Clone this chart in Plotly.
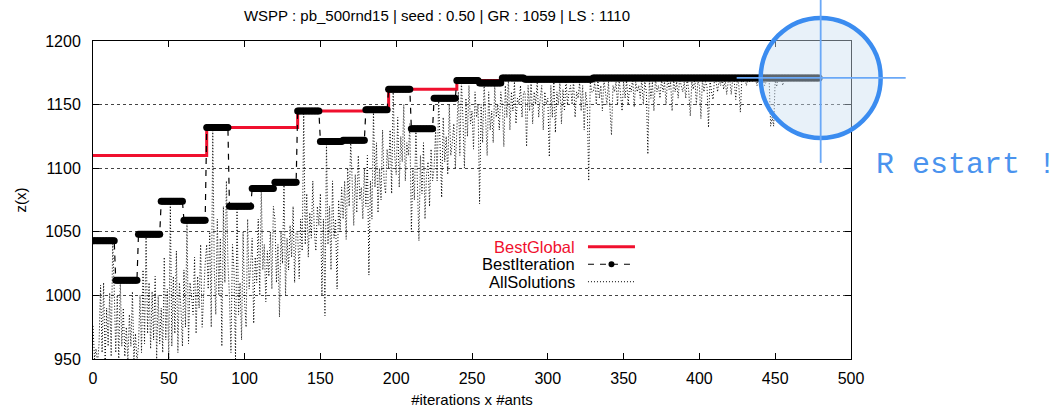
import plotly.graph_objects as go

# ---------------- data ----------------
INSTANCE = "pb_500rnd15"
SEED = "0.50"
GR = 1059
LS = 1110
ANTS = 15

x_ticks = [0, 50, 100, 150, 200, 250, 300, 350, 400, 450, 500]
y_ticks = [950, 1000, 1050, 1100, 1150, 1200]

best_iteration = [1043, 1012, 1048, 1074, 1059, 1132, 1070, 1084, 1089, 1145,
                  1121, 1122, 1146, 1162, 1131, 1155, 1169, 1167, 1171, 1170,
                  1170, 1170, 1171, 1171, 1171, 1171, 1171, 1171, 1171, 1171,
                  1171, 1171]

all_solutions = [
    [976, 950, 958, 947, 962, 1008, 955, 1010, 948, 990, 960, 1002, 952, 1043, 1005],
    [955, 1000, 948, 1012, 960, 990, 952, 975, 948, 985, 960, 1003, 950, 970, 948],
    [960, 1000, 955, 1020, 962, 1048, 970, 1010, 958, 1003, 965, 1015, 950, 1000, 962],
    [990, 955, 1030, 965, 1005, 950, 1074, 960, 1015, 970, 1035, 955, 1010, 990, 960],
    [1020, 975, 1059, 962, 1010, 1000, 985, 1030, 970, 1015, 990, 1040, 975, 1005, 1025],
    [1040, 1005, 1050, 975, 1132, 1020, 985, 1060, 1000, 1045, 960, 1070, 1010, 1090, 1025],
    [1000, 955, 1040, 1020, 950, 1070, 985, 1010, 965, 1050, 995, 975, 1060, 1005, 1030],
    [1045, 978, 1030, 1010, 1060, 1000, 1084, 1020, 1040, 995, 1035, 1015, 1050, 1005, 1070],
    [1060, 1010, 1040, 983, 1050, 1025, 1089, 1000, 1045, 1020, 1055, 1030, 1070, 1010, 1050],
    [1050, 1013, 1060, 1035, 1145, 1040, 1080, 1030, 1065, 1045, 1090, 1050, 1035, 1070, 1055],
    [1080, 1000, 1060, 984, 1121, 1040, 1070, 1020, 1090, 1045, 1060, 1005, 1075, 1050, 1085],
    [1060, 1090, 1044, 1100, 1070, 1122, 1080, 1055, 1095, 1065, 1110, 1075, 1085, 1060, 1100],
    [1070, 1110, 1016, 1090, 1060, 1146, 1085, 1120, 1065, 1100, 1075, 1130, 1090, 1080, 1115],
    [1100, 1130, 1080, 1162, 1110, 1095, 1140, 1085, 1125, 1105, 1150, 1090, 1120, 1110, 1135],
    [1050, 1100, 1075, 1131, 1090, 1043, 1110, 1080, 1120, 1060, 1095, 1105, 1070, 1115, 1090],
    [1100, 1130, 1090, 1155, 1115, 1077, 1140, 1105, 1125, 1095, 1150, 1110, 1120, 1135, 1100],
    [1130, 1160, 1110, 1169, 1140, 1100, 1155, 1125, 1165, 1135, 1145, 1115, 1160, 1140, 1150],
    [1072, 1150, 1120, 1167, 1135, 1110, 1160, 1130, 1145, 1120, 1165, 1140, 1150, 1130, 1160],
    [1150, 1117, 1165, 1140, 1171, 1130, 1160, 1145, 1168, 1135, 1155, 1150, 1165, 1140, 1160],
    [1160, 1117, 1165, 1145, 1170, 1135, 1160, 1150, 1168, 1140, 1155, 1165, 1130, 1160, 1150],
    [1155, 1109, 1165, 1140, 1170, 1128, 1160, 1150, 1168, 1135, 1162, 1145, 1170, 1150, 1160],
    [1165, 1150, 1170, 1140, 1160, 1155, 1168, 1145, 1165, 1130, 1160, 1150, 1090, 1168, 1160],
    [1160, 1168, 1150, 1171, 1155, 1165, 1145, 1170, 1160, 1150, 1168, 1140, 1126, 1165, 1160],
    [1168, 1150, 1171, 1160, 1145, 1168, 1155, 1170, 1150, 1165, 1160, 1171, 1148, 1168, 1160],
    [1165, 1155, 1171, 1150, 1168, 1160, 1111, 1170, 1155, 1168, 1145, 1171, 1160, 1165, 1155],
    [1170, 1160, 1168, 1150, 1171, 1162, 1168, 1145, 1170, 1160, 1168, 1155, 1171, 1165, 1160],
    [1168, 1155, 1171, 1160, 1141, 1168, 1162, 1171, 1150, 1168, 1165, 1139, 1170, 1160, 1168],
    [1165, 1132, 1170, 1160, 1154, 1171, 1168, 1160, 1170, 1165, 1171, 1162, 1170, 1158, 1168],
    [1170, 1158, 1171, 1168, 1154, 1171, 1165, 1144, 1170, 1168, 1171, 1165, 1170, 1168, 1171],
    [1168, 1171, 1170, 1165, 1171, 1168, 1170, 1171, 1165, 1168, 1171, 1170, 1133, 1140, 1133],
    [1170, 1164, 1171, 1170, 1171, 1165, 1171, 1171, 1170, 1171, 1171, 1171, 1171, 1171, 1171],
    [1171, 1171, 1171, 1171, 1171, 1171, 1171, 1171, 1171, 1171, 1171, 1171, 1171, 1171, 1171],
]

# ---------------- derived series ----------------
xs = []
all_y = []
bi_y = []
bg_y = []
best = LS
for it, sols in enumerate(all_solutions):
    best = max(best, best_iteration[it])
    for a, v in enumerate(sols):
        xs.append(it * ANTS + a)
        all_y.append(v)
        bi_y.append(best_iteration[it])
        bg_y.append(best)

RED = "#f0102e"
BLUE = "#3b8cf0"
LBLUE = "#6aa8f7"
FONT = "Liberation Sans, Arial, sans-serif"

fig = go.Figure()
fig.add_trace(go.Scatter(x=xs, y=all_y, mode="lines", name="AllSolutions",
                         line=dict(color="black", width=1, dash="1px,2px"),
                         showlegend=False))
fig.add_trace(go.Scatter(x=xs, y=bg_y, mode="lines", name="BestGlobal",
                         line=dict(color=RED, width=3, shape="hv"),
                         showlegend=False))
fig.add_trace(go.Scatter(x=xs, y=bi_y, mode="lines+markers", name="BestIteration",
                         line=dict(color="black", width=1.2, dash="6px,6px"),
                         marker=dict(color="black", size=7),
                         showlegend=False))

# ---------------- legend (gnuplot style: text left, sample right) -------
leg_text_x = 0.6385
leg_s0, leg_s1 = 0.653, 0.715
leg_rows = [("BestGlobal", RED, 0.353), ("BestIteration", "black", 0.298),
            ("AllSolutions", "black", 0.243)]
annotations = []
shapes = []
for name, col, yy in leg_rows:
    annotations.append(dict(x=leg_text_x, y=yy, xref="paper", yref="paper",
                            text=name, showarrow=False, xanchor="right",
                            yanchor="middle", font=dict(family=FONT, size=16.5, color=col)))
shapes.append(dict(type="line", xref="paper", yref="paper", x0=leg_s0, x1=leg_s1,
                   y0=leg_rows[0][2], y1=leg_rows[0][2], line=dict(color=RED, width=3)))
shapes.append(dict(type="line", xref="paper", yref="paper", x0=leg_s0, x1=leg_s1,
                   y0=leg_rows[1][2], y1=leg_rows[1][2],
                   line=dict(color="black", width=1.2, dash="6px,6px")))
shapes.append(dict(type="circle", xref="paper", yref="paper", xsizemode="pixel",
                   ysizemode="pixel", xanchor=(leg_s0 + leg_s1) / 2, yanchor=leg_rows[1][2],
                   x0=-3, x1=3, y0=-3, y1=3, fillcolor="black", line=dict(width=0)))
shapes.append(dict(type="line", xref="paper", yref="paper", x0=leg_s0, x1=leg_s1,
                   y0=leg_rows[2][2], y1=leg_rows[2][2],
                   line=dict(color="black", width=1, dash="1px,2px")))

# ---------------- restart highlight ----------------
last_x = xs[-1] + 1
last_y = bi_y[-1]
ax_ = (last_x - x_ticks[0]) / (x_ticks[-1] - x_ticks[0])
ay_ = (last_y - y_ticks[0]) / (y_ticks[-1] - y_ticks[0])
shapes.append(dict(type="circle", xref="paper", yref="paper", xsizemode="pixel",
                   ysizemode="pixel", xanchor=ax_, yanchor=ay_,
                   x0=-60, x1=60, y0=-60, y1=60,
                   fillcolor="rgba(205,225,242,0.45)", line=dict(color=BLUE, width=4.5),
                   layer="above"))
shapes.append(dict(type="line", xref="paper", yref="paper", xsizemode="pixel",
                   ysizemode="pixel", xanchor=ax_, yanchor=ay_,
                   x0=0, x1=0, y0=-85, y1=80, line=dict(color=LBLUE, width=1.8),
                   layer="above"))
shapes.append(dict(type="line", xref="paper", yref="paper", xsizemode="pixel",
                   ysizemode="pixel", xanchor=ax_, yanchor=ay_,
                   x0=-84, x1=85, y0=0, y1=0, line=dict(color=LBLUE, width=1.8),
                   layer="above"))
annotations.append(dict(x=1.03, y=0.61, xref="paper", yref="paper", text="R estart !",
                        showarrow=False, xanchor="left", yanchor="middle",
                        font=dict(family="Liberation Mono, Courier New, monospace",
                                  size=30, color="#4a93ee")))

fig.update_layout(
    width=1063, height=414,
    margin=dict(l=93, r=212, t=41, b=55),
    paper_bgcolor="white", plot_bgcolor="white",
    font=dict(family=FONT, size=15, color="black"),
    title=dict(text=f"WSPP : {INSTANCE} | seed : {SEED} | GR : {GR} | LS : {LS}",
               x=437 / 1063, xref="container", xanchor="center",
               y=1 - 16 / 414, yref="container", yanchor="middle",
               font=dict(family=FONT, size=15, color="black")),
    shapes=shapes, annotations=annotations, showlegend=False,
)
fig.update_xaxes(range=[x_ticks[0], x_ticks[-1]], tickvals=x_ticks, ticks="inside",
                 ticklen=6, tickcolor="black", showline=True, linecolor="black",
                 linewidth=1, mirror="ticks", showgrid=False, zeroline=False,
                 ticklabelstandoff=5, automargin=False,
                 title=dict(text="#iterations x #ants", standoff=8, font=dict(size=15)),
                 tickfont=dict(size=16))
fig.update_yaxes(range=[y_ticks[0], y_ticks[-1]], tickvals=y_ticks, ticks="inside",
                 ticklen=6, tickcolor="black", showline=True, linecolor="black",
                 linewidth=1, mirror="ticks", showgrid=True, gridcolor="#444",
                 griddash="dot", gridwidth=1, zeroline=False,
                 ticklabelstandoff=8, automargin=False,
                 title=dict(text="z(x)", standoff=14, font=dict(size=15)),
                 tickfont=dict(size=16))

fig.write_html("out.html", post_script="document.body.style.margin='0px';",
               config={"displayModeBar": False})
